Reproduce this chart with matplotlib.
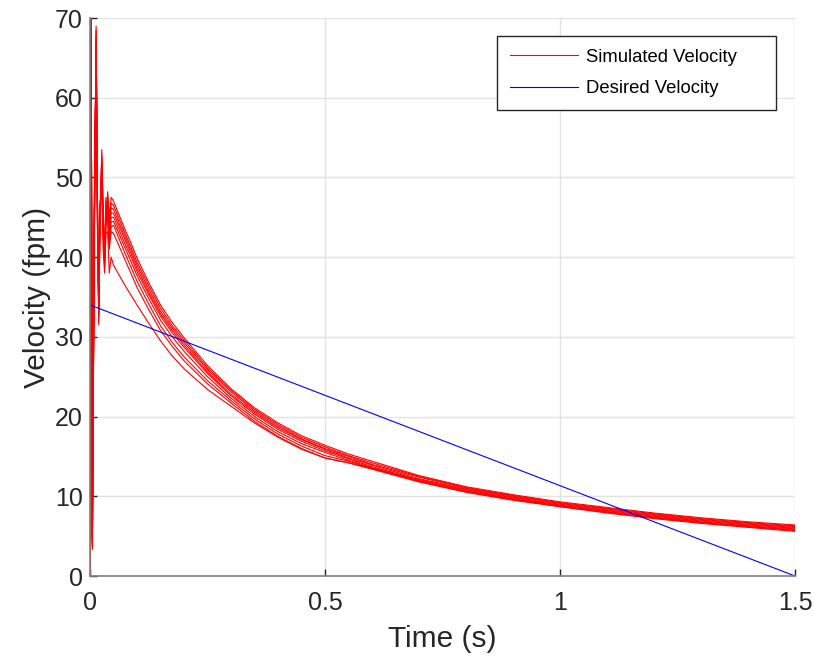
import matplotlib
matplotlib.use("Agg")
import matplotlib.pyplot as plt

plt.rcParams['font.family'] = ['Liberation Sans', 'DejaVu Sans']

# time samples (s): start-up transient, then the slow decay
t_transient = [0, 0.002, 0.005, 0.009, 0.013, 0.016, 0.0185, 0.021, 0.025,
               0.028, 0.031, 0.034, 0.0375, 0.041, 0.045]
t_decay = [0.05, 0.0625, 0.075, 0.0875, 0.1, 0.125, 0.15, 0.175, 0.2, 0.25,
           0.3, 0.35, 0.4, 0.45, 0.5, 0.55, 0.6, 0.7, 0.8, 0.9, 1.0, 1.1, 1.2,
           1.3, 1.4, 1.5]

# simulated velocity runs (fpm), transient part
tr1 = [0, 80, 3.3, 40, 69, 47, 31.5, 42, 53.5, 46, 38.5, 44, 48.2, 45, 47.5]
tr2 = [0, 80, 3.5, 41, 68.5, 46, 32, 43, 53, 45.5, 38.8, 44.5, 47.8, 44, 46.8]
tr3 = [0, 80, 3.8, 42, 68, 46, 32.5, 43.5, 52.5, 45, 39.2, 45, 47.3, 43.5, 46.2]
tr4 = [0, 80, 4.0, 43, 67.5, 45.5, 33, 44, 52, 44.5, 39.6, 45.5, 46.8, 43, 45.6]
tr5 = [0, 80, 4.2, 43.5, 67, 45, 33.5, 44.5, 51.5, 44, 40, 46, 46.3, 42.5, 45]
tr6 = [0, 80, 4.4, 44, 66.5, 44.5, 34, 45, 51, 43.5, 40.3, 46.5, 45.8, 42, 44.4]
tr7 = [0, 80, 4.6, 44.5, 66, 44, 34.5, 45.5, 50.5, 43, 40.6, 47, 45.2, 41.5, 43.8]
tr8 = [0, 80, 4.8, 45, 65.5, 43.5, 35, 46, 50, 42.5, 41, 47.5, 44.6, 41, 43.2]
tr9 = [0, 80, 5.0, 45.5, 65, 43, 35.5, 46.5, 49.5, 41, 38, 43, 43.2, 38, 40]

# simulated velocity runs (fpm), decay part
dc1 = [47, 45.2, 43.4, 41.7, 39.9, 36.8, 34.0, 31.8, 29.9, 26.4, 23.5, 21.1,
       19.2, 17.6, 16.4, 15.3, 14.4, 12.6, 11.2, 10.2, 9.3, 8.6, 7.9, 7.3, 6.8, 6.4]
dc2 = [46.5, 44.7, 42.9, 41.2, 39.4, 36.4, 33.6, 31.4, 29.6, 26.1, 23.3, 20.9,
       19.0, 17.4, 16.2, 15.1, 14.2, 12.5, 11.1, 10.1, 9.2, 8.5, 7.8, 7.2, 6.7, 6.3]
dc3 = [46, 44.2, 42.5, 40.8, 39.0, 36.0, 33.2, 31.1, 29.3, 25.9, 23.1, 20.7,
       18.8, 17.2, 16.0, 15.0, 14.0, 12.4, 11.0, 10.0, 9.1, 8.4, 7.7, 7.1, 6.6, 6.2]
dc4 = [45.5, 43.8, 42.1, 40.4, 38.6, 35.6, 32.9, 30.8, 29.0, 25.6, 22.8, 20.5,
       18.6, 17.1, 15.9, 14.8, 13.9, 12.2, 10.9, 9.9, 9.0, 8.3, 7.6, 7.0, 6.5, 6.1]
dc5 = [45, 43.3, 41.6, 40.0, 38.2, 35.3, 32.6, 30.5, 28.7, 25.4, 22.6, 20.3,
       18.4, 16.9, 15.7, 14.7, 13.7, 12.1, 10.8, 9.8, 8.9, 8.2, 7.5, 6.9, 6.4, 6.0]
dc6 = [44.5, 42.8, 41.1, 39.4, 37.7, 34.8, 32.1, 30.0, 28.2, 25.0, 22.3, 20.0,
       18.1, 16.6, 15.5, 14.5, 13.6, 12.0, 10.7, 9.7, 8.8, 8.1, 7.4, 6.8, 6.3, 5.9]
dc7 = [44, 42.2, 40.4, 38.7, 37.0, 34.1, 31.4, 29.3, 27.5, 24.5, 22.0, 19.7,
       17.8, 16.3, 15.1, 14.4, 13.5, 11.9, 10.6, 9.6, 8.7, 8.0, 7.3, 6.7, 6.2, 5.8]
dc8 = [43, 41.3, 39.6, 37.9, 36.2, 33.4, 30.8, 28.8, 27.0, 24.1, 21.7, 19.4,
       17.5, 16.0, 14.8, 14.2, 13.4, 11.8, 10.5, 9.5, 8.7, 7.9, 7.2, 6.6, 6.1, 5.6]
dc9 = [39, 37.7, 36.4, 35.2, 34.0, 31.7, 29.5, 27.6, 26.0, 23.4, 21.3, 19.2,
       17.4, 15.9, 14.8, 14.2, 13.5, 11.9, 10.6, 9.6, 8.8, 8.0, 7.3, 6.7, 6.2, 5.7]

transients = [tr1, tr2, tr3, tr4, tr5, tr6, tr7, tr8, tr9]
decays = [dc1, dc2, dc3, dc4, dc5, dc6, dc7, dc8, dc9]

# desired velocity profile (fpm)
t_desired = [0, 1.5]
v_desired = [34, 0]

fig = plt.figure(figsize=(8.15, 6.6), dpi=100)
ax = fig.add_axes([90 / 815, 84 / 660, 705 / 815, 558 / 660])

t_run = t_transient + t_decay
for i, (tr, dc) in enumerate(zip(transients, decays)):
    ax.plot(t_run, tr + dc, color='#ff0000', lw=0.8,
            label='Simulated Velocity' if i == 0 else None)
ax.plot(t_desired, v_desired, color='#0000ff', lw=0.8, label='Desired Velocity')

ax.set_xlim(0, 1.5)
ax.set_ylim(0, 70)
ax.set_xticks([0, 0.5, 1, 1.5])
ax.set_xticklabels(['0', '0.5', '1', '1.5'])
ax.set_yticks(range(0, 71, 10))

ax.grid(True, color='#e3e3e3', lw=1)
ax.set_axisbelow(True)
for side in ['top', 'right']:
    ax.spines[side].set_visible(False)
for side in ['left', 'bottom']:
    ax.spines[side].set_color('#808080')
    ax.spines[side].set_linewidth(1.2)
ax.tick_params(direction='in', length=5, width=1, color='#262626',
               labelsize=18, labelcolor='#262626')
ax.tick_params(axis='x', pad=11)
ax.tick_params(axis='y', pad=5)

ax.set_xlabel('Time (s)', fontsize=21.5, color='#262626', labelpad=7)
ax.set_ylabel('Velocity (fpm)', fontsize=21.5, color='#262626', labelpad=3)

# legend box spans x 497..776 px, top at 36 px
leg_x0 = (497 - 90) / 705
leg_w = (776 - 497) / 705
leg_top = (576 - 36) / 558
leg = ax.legend(loc='upper left', bbox_to_anchor=(leg_x0, leg_top - 0.3, leg_w, 0.3),
                mode='expand', borderaxespad=0, fontsize=13.3, handlelength=3.7,
                labelspacing=0.78, fancybox=False, framealpha=1,
                edgecolor='#262626', borderpad=0.68, handletextpad=0.45)
leg.get_frame().set_linewidth(1)

fig.savefig('out.png', dpi=100)
